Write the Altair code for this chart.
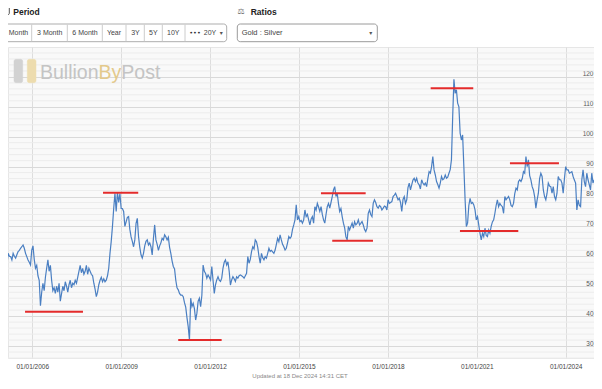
import altair as alt
import pandas as pd

# ---------------- data ----------------
# Gold : Silver ratio, sampled about every 15 days (first value = late Dec 2004)
first = [66.8]
y2005 = [64, 63.5, 61, 57.1, 61, 60, 59.9, 58.8, 61, 60, 59.4, 60.5, 61.6, 62, 62.7, 63.2, 63.8, 62.7, 61, 59.9, 58.8, 58, 57.1, 62.1]
y2006 = [63.5, 59, 56, 57, 53.5, 52, 43.5, 48, 51, 48.5, 53, 56, 58.8, 55, 57, 52, 48.5, 49.5, 47.6, 50, 48, 51, 45, 47.5]
y2007 = [50, 48.5, 51.5, 50, 48, 50.5, 52, 49.5, 51, 50.5, 52, 51, 53, 55, 57, 54.5, 56, 54, 55, 57, 54, 56, 55, 54]
y2008 = [53.5, 51, 49, 46.5, 48, 50.5, 52, 53, 51.5, 52.5, 51.5, 52, 53.5, 56, 61, 65, 70, 76, 81.1, 75, 81.5, 78, 81, 76]
y2009 = [76, 75, 70, 71.5, 73, 73.3, 69, 66.5, 65, 63.2, 65.5, 71, 72.7, 66.6, 63, 60.5, 59.4, 61, 63.5, 65, 65.5, 63.8, 64.5, 63.2]
y2010 = [60.5, 66, 70.5, 65.5, 64, 62, 63.5, 64.5, 66, 65.5, 67.2, 66.5, 65.5, 66.4, 63, 61, 58.5, 56.6, 55.8, 52, 49.5, 48.8, 47.6, 47]
y2011 = [47, 46.5, 44.5, 43, 39.5, 36.5, 32, 46, 43.2, 44.3, 42.5, 38.7, 41, 45, 46, 43.2, 47, 57.1, 55, 54.3, 52.7, 53.8, 53, 52.1]
y2012 = [56.6, 52, 47.6, 50.5, 52.1, 53.2, 52, 51.6, 52.7, 56, 58, 58.8, 57.1, 58.2, 55, 50.4, 52.1, 53.2, 52.5, 51.6, 53.2, 52.7, 53.5, 53.8]
y2013 = [53.5, 53.2, 52.7, 53.5, 54.3, 59.9, 57.7, 59, 61.6, 63.2, 62.5, 65.5, 64.9, 63, 60, 57.7, 61, 59.5, 58.8, 59.9, 59.4, 61, 62.7, 61.6]
y2014 = [62, 61.5, 61, 62.1, 64, 66, 64.9, 67.2, 65.5, 64, 63.2, 62.1, 62.7, 64.5, 66.6, 66, 66.6, 69, 70.5, 72.2, 77.2, 72.2, 73.3, 71.6]
y2015 = [72, 71.1, 72.2, 75.5, 73.3, 74, 72.2, 70.5, 72.5, 73.3, 71.1, 76.6, 75.5, 77.7, 76.5, 75, 76.6, 74, 72.2, 71.1, 74, 76.6, 77.7, 76.1]
y2016 = [78, 80, 82.2, 83.3, 80, 81.1, 77.7, 75, 76, 73.3, 71.1, 69.5, 66.5, 65.5, 70, 68.8, 70, 71.1, 69.4, 71.6, 70.5, 71, 72.2, 70.5]
y2017 = [71, 71.6, 70.5, 69, 68.3, 69.4, 74.4, 75.5, 74, 73.3, 77.7, 78.9, 78, 76.6, 76.1, 77, 76.6, 75.5, 76.1, 76.8, 76.6, 75.5, 78.9, 77.7]
y2018 = [78, 78.3, 80, 80.5, 81.1, 80, 78.9, 79.4, 78, 75, 79, 80, 77.7, 78.9, 83, 84.5, 82.2, 83.9, 85.5, 86.1, 85, 86.1, 84.5, 83.9]
y2019 = [82.5, 85.6, 84.5, 83.9, 84.5, 83.3, 86, 88.3, 87.8, 90, 93.4, 88.9, 87.2, 85, 84, 82.8, 84.5, 86.7, 85.6, 86, 87.2, 86.1, 86.5, 87.8]
y2020 = [89, 92.3, 106.7, 119.2, 114.5, 115.7, 111.2, 110, 101.2, 98.9, 100.6, 90, 78.9, 70, 71.1, 77, 79.4, 77.7, 78, 77.2, 75.5, 72.2, 73.3, 70.5]
y2021 = [67.7, 65.5, 67.7, 66.6, 69.4, 67, 66.6, 68.8, 67.7, 70, 71.5, 72.2, 74.4, 77, 78.9, 76.6, 77.7, 77, 76.6, 74.4, 80, 78.9, 79.5, 80]
y2022 = [78.9, 77, 76.6, 77.7, 81, 82.8, 82.2, 85, 85.6, 85, 86, 88.3, 87.8, 93.4, 90, 92.3, 87, 85.6, 83.3, 82.2, 80, 76.1, 78.9, 81.1]
y2023 = [86, 87.8, 86.7, 82.2, 80, 78.9, 81.1, 84.5, 83.5, 83.3, 81.1, 83.3, 80, 78.9, 81.1, 86.7, 85.6, 85.6, 84.5, 81.1, 86, 90, 88.9, 88.9]
y2024 = [87.8, 88, 88.3, 86.7, 85.5, 84.5, 75.5, 78.9, 77, 76.6, 85.6, 88.9, 85, 83.3, 87.8, 85.6, 84, 82.2, 87.8, 84.5, 85.6]

# red support / resistance marks
seg_start = ["2005-10-04", "2008-05-22", "2010-12-05", "2015-09-29", "2016-02-15", "2019-06-12", "2020-06-07", "2022-02-13"]
seg_end = ["2007-09-18", "2009-07-30", "2012-05-23", "2017-04-02", "2017-07-01", "2020-11-18", "2022-05-27", "2023-10-10"]
seg_level = [41.5, 81.3, 32, 81.1, 65.2, 116.2, 68.5, 91.1]

tick_years = [2006, 2009, 2012, 2015, 2018, 2021, 2024]
y_ticks = [30, 40, 50, 60, 70, 80, 90, 100, 110, 120]
minor_grid = [v for v in range(26, 131, 2) if v % 10 != 0]

period_buttons = ["Month", "3 Month", "6 Month", "Year", "3Y", "5Y", "10Y"]
ratio_choice = "Gold : Silver"
footer_text = "Updated at 18 Dec 2024 14:31 CET"

# ---------------- build tables ----------------
ratio = first + y2005 + y2006 + y2007 + y2008 + y2009 + y2010 + y2011 + y2012 + y2013 + \
    y2014 + y2015 + y2016 + y2017 + y2018 + y2019 + y2020 + y2021 + y2022 + y2023 + y2024
dates = pd.date_range("2004-12-23 12:00", periods=len(ratio), freq="22036min")
series = pd.DataFrame({"date": dates, "ratio": ratio})

segs = pd.DataFrame({
    "date": pd.to_datetime(seg_start),
    "date_end": pd.to_datetime(seg_end),
    "ratio": seg_level,
})
grid_df = pd.DataFrame({"ratio": minor_grid})
one = pd.DataFrame({"k": [0]})

W, H = 586, 311
UI_FONT = "Liberation Sans, Arial, Helvetica, sans-serif"

x_scale = alt.Scale(domain=[alt.DateTime(year=2005, month=3, date=8),
                            alt.DateTime(year=2024, month=12, date=15)])
y_scale = alt.Scale(domain=[26, 130], nice=False, zero=False)

x_axis = alt.Axis(
    values=[alt.DateTime(year=y, month=1, date=1) for y in tick_years],
    format="%d/%m/%Y", labelFont=UI_FONT, labelFontSize=6.5, labelColor="#444444",
    labelPadding=5.5, ticks=False, domain=False, grid=True, gridColor="#dddddd",
    gridWidth=1, labelOverlap=False, labelFlush=False, title=None,
)
y_axis = alt.Axis(
    orient="right", values=y_ticks, labelAlign="right", labelPadding=-1,
    labelBaseline="alphabetic", labelOffset=-1, labelFont=UI_FONT, labelFontSize=6.5,
    labelColor="#555555", ticks=False, domain=False, grid=True, gridColor="#d9d9d9",
    gridWidth=1, title=None,
)

X = alt.X("date:T", scale=x_scale, axis=x_axis)
Y = alt.Y("ratio:Q", scale=y_scale, axis=y_axis)

minor = alt.Chart(grid_df).mark_rule(color="#ececec", strokeWidth=1).encode(y=Y)

line = alt.Chart(series).mark_line(color="#4a7fc2", strokeWidth=1.2, clip=True).encode(x=X, y=Y)

reds = alt.Chart(segs).mark_rule(color="#e42b2b", strokeWidth=2, clip=True).encode(
    x=X, x2="date_end:T", y=Y)


def txt(s, x, y, size=7, color="#333333", weight="normal", align="left",
        baseline="middle", font=UI_FONT):
    return alt.Chart(one).mark_text(
        text=s, align=align, baseline=baseline, fontSize=size, color=color,
        fontWeight=weight, font=font,
    ).encode(x=alt.value(x), y=alt.value(y))


def box(x1, x2, y1, y2, fill="white", stroke="#adadad", radius=3, sw=1):
    return alt.Chart(one).mark_rect(
        fill=fill, stroke=stroke, strokeWidth=sw, cornerRadius=radius,
    ).encode(x=alt.value(x1), x2=alt.value(x2), y=alt.value(y1), y2=alt.value(y2))


def vline(x, y1, y2, color="#cccccc"):
    return alt.Chart(one).mark_rule(color=color, strokeWidth=1).encode(
        x=alt.value(x), y=alt.value(y1), y2=alt.value(y2))


# watermark
wm = [
    box(6, 14.7, 12.3, 35.7, fill="#d2d2d2", stroke="#d2d2d2", radius=2, sw=0.5),
    box(19.3, 28, 12.3, 35.7, fill="#eddcae", stroke="#eddcae", radius=2, sw=0.5),
    txt("Bullion", 90.5, 32.3, size=19.5, color="#c4c4c4", baseline="alphabetic",
        align="right"),
    txt("By", 101.9, 32.3, size=19.5, color="#e3c98c", baseline="alphabetic",
        align="center"),
    txt("Post", 113.3, 32.3, size=19.5, color="#c4c4c4", baseline="alphabetic",
        align="left"),
]

# top controls (coordinates relative to plot origin)
ui = [
    box(-5.3, 1.3, -40, -32.5, fill="white", stroke="#555555", radius=1),
    txt("Period", 5.3, -35.3, size=8.5, color="#222222", weight="bold"),
    box(-4.7, 218.7, -23, -5.3),
]
for xs in [23.7, 59.3, 94.3, 118, 136.3, 154.3, 177]:
    ui.append(vline(xs, -22.5, -5.8))
for label, cx in zip(period_buttons, [10.5, 41.7, 77, 106, 127.5, 145.3, 165.3]):
    ui.append(txt(label, cx, -14.3, size=7, color="#444444", align="center"))
ui += [
    txt("•••", 187, -14.3, size=6.5, color="#333333", align="center",
        font="DejaVu Sans, sans-serif"),
    txt("20Y", 202, -14.3, size=7, color="#444444", align="center"),
    txt("▾", 213.3, -14.3, size=6, color="#555555", align="center",
        font="DejaVu Sans, sans-serif"),
    txt("⚖", 233, -35.3, size=8, color="#555555", align="center",
        font="DejaVu Sans, sans-serif"),
    txt("Ratios", 242.7, -35.3, size=8.5, color="#222222", weight="bold"),
    box(229.3, 369.3, -23, -5.3, stroke="#9a9a9a"),
    txt(ratio_choice, 233.7, -14.3, size=7.5, color="#444444"),
    txt("▾", 362.7, -14.3, size=6, color="#555555", align="center",
        font="DejaVu Sans, sans-serif"),
    txt(footer_text, 292, 329, size=6, color="#888888", align="center"),
]

chart = alt.layer(minor, *wm, line, reds, *ui).properties(
    width=W, height=H,
    padding={"left": 0, "top": 39, "right": 0, "bottom": 22},
    autosize=alt.AutoSizeParams(type="none"),
).configure_view(fill="#f9f9f9", stroke="#e6e6e6", strokeWidth=1)

chart.save("out.html", embed_options={"renderer": "svg", "actions": False})
